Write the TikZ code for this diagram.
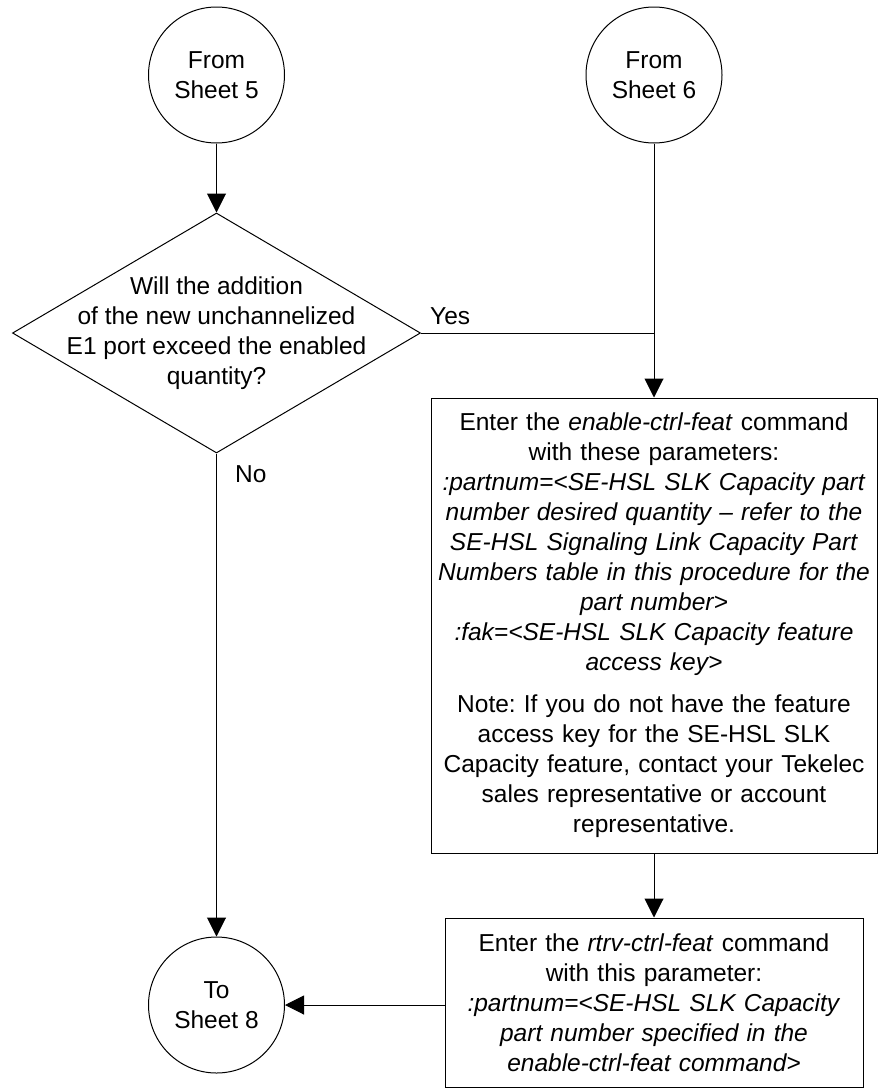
\documentclass[tikz,border=0pt]{standalone}
\usepackage{fontspec}
\setmainfont{Liberation Sans}
\usetikzlibrary{shapes.geometric,arrows.meta}
\frenchspacing
\begin{document}
\begin{tikzpicture}[x=1pt,y=-1pt,
  every node/.style={font=\fontsize{24.5}{30}\selectfont\frenchspacing},
  conn/.style={draw,circle,line width=1pt,minimum size=136pt,inner sep=0pt,align=center},
  dec/.style={draw,diamond,line width=1pt,minimum width=408pt,minimum height=240pt,inner sep=0pt},
  procbox/.style={draw,rectangle,line width=1pt,inner xsep=2pt,inner ysep=0pt,align=center},
  flow/.style={line width=1pt,-{Triangle[length=19pt,width=19pt]}},
  plain/.style={line width=1pt},
  lbl/.style={inner sep=0pt}]
\useasboundingbox (0,0) rectangle (878,1090);

\node[conn] (s5) at (216.5,75) {From\\Sheet 5};
\node[conn] (s6) at (654,75) {From\\Sheet 6};
\node[dec] (q) at (216.5,333) {};
\node[align=center,inner sep=0pt] (qt) at (q.center) {Will the addition\\of the new unchannelized\\E1 port exceed the enabled\\quantity?};
\coordinate (j) at (s6 |- q.east);

\node[procbox,text width=442pt,minimum height=455pt] (b1) at (654,625.5) {Enter the \textit{enable-ctrl-feat} command\\
with these parameters:\\
\textit{:partnum=<SE-HSL SLK Capacity part}\\
\textit{number desired quantity – refer to the}\\
\textit{SE-HSL Signaling Link Capacity Part}\\
\textit{Numbers table in this procedure for the}\\
\textit{part number>}\\
\textit{:fak=<SE-HSL SLK Capacity feature}\\
\textit{access key>}\\[11.7pt]
Note: If you do not have the feature\\
access key for the SE-HSL SLK\\
Capacity feature, contact your Tekelec\\
sales representative or account\\
representative.};

\node[procbox,text width=414pt,minimum height=169pt] (b2) at (654,1002.5) {Enter the \textit{rtrv-ctrl-feat} command\\
with this parameter:\\
\textit{:partnum=<SE-HSL SLK Capacity}\\
\textit{part number specified in the}\\
\textit{enable-ctrl-feat command>}};

\node[conn] (s8) at (216.5,1005) {To\\Sheet 8};

\node[lbl,anchor=base west] (yes) at (430,324) {Yes};
\node[lbl,anchor=base west] (no) at (235,482) {No};

\draw[flow] (s5.south) -- (q.north);
\draw[plain] (q.east) -- (j);
\draw[flow] (s6.south) -- (b1.north);
\draw[flow] (b1.south) -- (b2.north);
\draw[flow] (q.south) -- (s8.north);
\draw[flow] (b2.west |- s8.east) -- (s8.east);
\end{tikzpicture}
\end{document}
